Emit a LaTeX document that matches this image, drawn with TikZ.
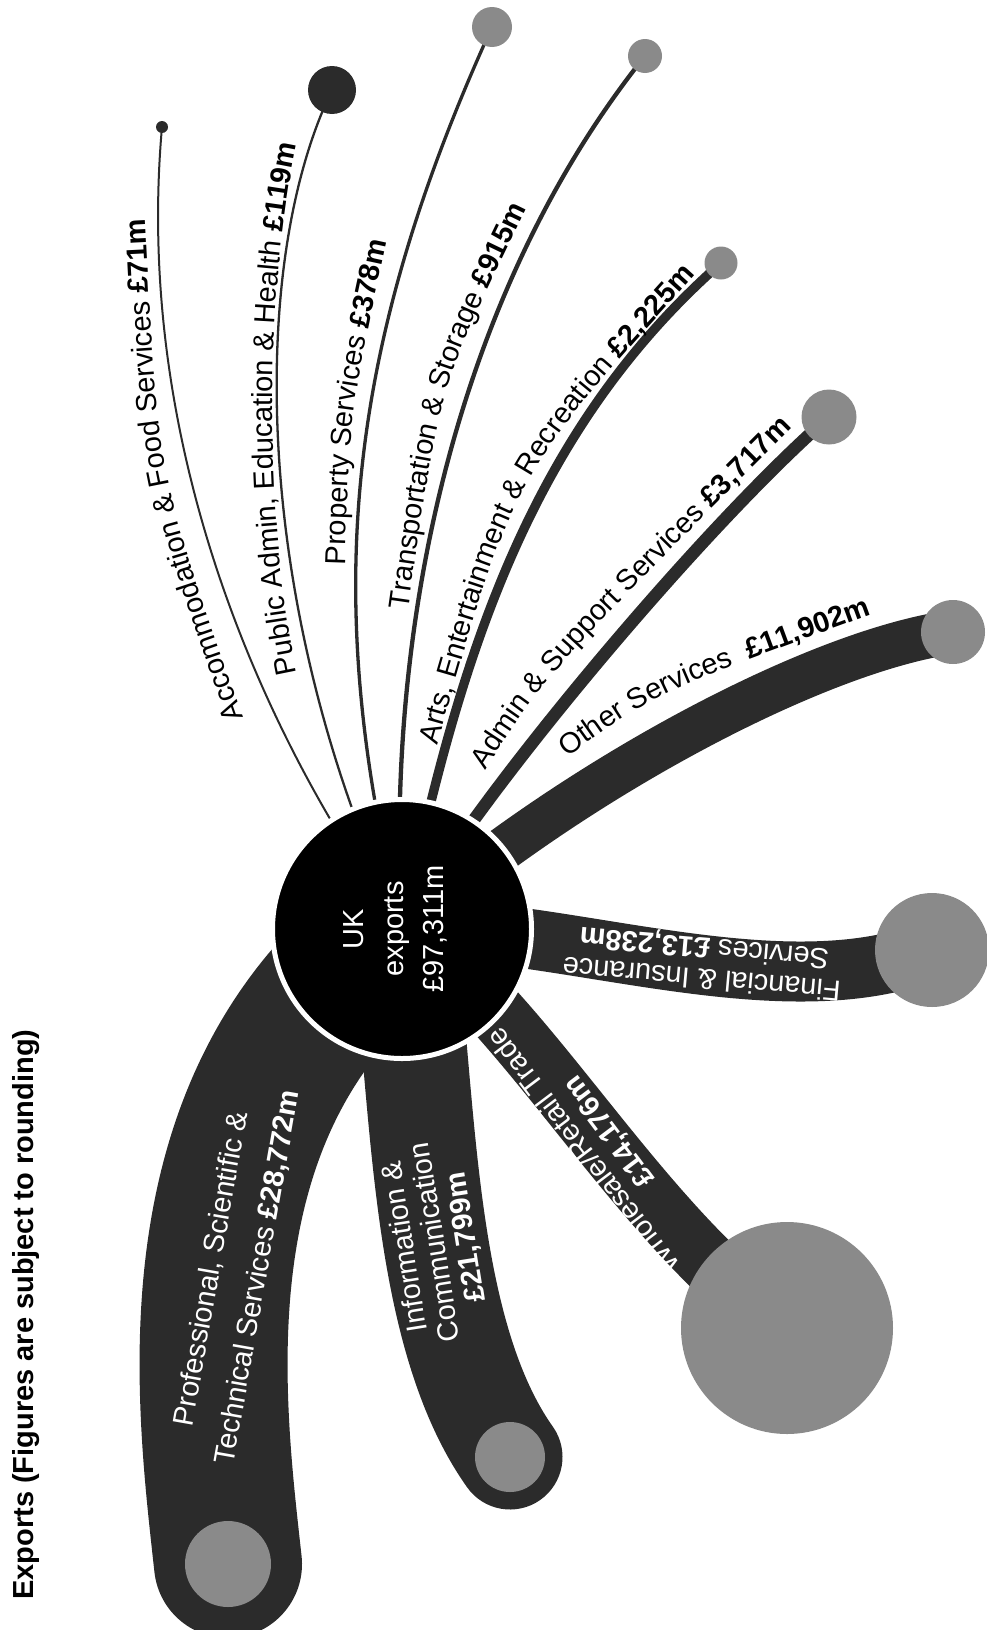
\documentclass[tikz,border=0pt]{standalone}
\usepackage{fontspec}
\setmainfont{Liberation Sans}
\usepackage{xcolor}
\usetikzlibrary{decorations.text}
\definecolor{bandgray}{HTML}{2B2B2B}
\definecolor{knobgray}{HTML}{8A8A8A}
\newcommand{\lbl}{\fontsize{29}{31}\selectfont}
\pgfdeclarelayer{bg}
\pgfsetlayers{bg,main}

\begin{document}
\begin{tikzpicture}[x=1pt,y=-1pt,
  knob/.style={circle,fill=knobgray,inner sep=0pt,minimum size=#1},
  darkknob/.style={circle,fill=bandgray,inner sep=0pt,minimum size=#1},
  stem/.style={draw=bandgray,line cap=round},
  inband/.style={text=white,align=center,inner sep=0pt},
  along/.style={decorate,decoration={text along path,text={#1}}}]
\useasboundingbox (0,0) rectangle (987,1630);
% hub
\node[circle,fill=black,draw=white,line width=5pt,minimum size=259pt,inner sep=0pt] (hub) at (402,929) {};
\node[rotate=90,text=white,align=center,inner sep=0pt,font=\fontsize{29}{40}\selectfont] (hubtxt) at (395,929) {UK\\exports\\£97,311m};
% end knobs
\node[darkknob=12pt] (eAcc) at (162,127) {};
\node[darkknob=48pt] (ePub) at (332,90) {};
\node[knob=40pt] (eProp) at (492,27) {};
\node[knob=34pt] (eTrans) at (645,56) {};
\node[knob=33pt] (eArts) at (721,263) {};
\node[knob=55pt] (eAdmin) at (829,417) {};
\node[knob=64pt] (eOther) at (953,632) {};
\node[knob=114pt] (eFin) at (932,950) {};
\node[knob=212pt] (eWhole) at (787,1328) {};
\node[knob=70pt] (eInfo) at (510,1457) {};
\node[knob=86pt] (eProf) at (228,1564) {};
% stems and bands
\begin{pgfonlayer}{bg}
\draw[stem,line width=2pt] (hub.center) .. controls (250,720) and (135,430) .. (eAcc.center);
\draw[stem,line width=2.3pt] (hub.center) .. controls (255,620) and (245,270) .. (ePub.center);
\draw[stem,line width=3.3pt] (hub.center) .. controls (320,600) and (345,350) .. (eProp.center);
\draw[stem,line width=4.3pt] (hub.center) .. controls (385,640) and (450,300) .. (eTrans.center);
\draw[stem,line width=9.3pt] (hub.center) .. controls (455,680) and (520,440) .. (eArts.center);
\draw[stem,line width=12.5pt] (hub.center) .. controls (480,790) and (710,520) .. (eAdmin.center);
\draw[stem,line width=44pt] (hub.center) .. controls (580,775) and (820,650) .. (eOther.center);
\draw[stem,line width=60pt] (hub.center) .. controls (560,925) and (780,1010) .. (eFin.center);
\draw[stem,line width=60pt] (hub.center) .. controls (520,1000) and (640,1230) .. (eWhole.center);
\draw[stem,line width=105pt] (hub.center) .. controls (425,1100) and (420,1330) .. (eInfo.center);
\draw[stem,line width=148pt] (hub.center) .. controls (170,1100) and (210,1400) .. (eProf.center);
\end{pgfonlayer}
% labels beside the thin stems
\path[along={|\lbl|Accommodation {\&} Food Services |\lbl\bfseries|£71m}]
  (243,717) .. controls (158,477) .. (145,217) -- (143,180);
\path[along={|\lbl|Public Admin, Education {\&} Health |\lbl\bfseries|£119m}]
  (297,673) .. controls (264,520) and (262,270) .. (306,105);
\path[along={|\lbl|Property Services |\lbl\bfseries|£378m}]
  (345,565) .. controls (350,412) .. (387,240) -- (394,205);
\path[along={|\lbl|Transportation {\&} Storage |\lbl\bfseries|£915m}]
  (408,610) .. controls (440,386) .. (522,217) -- (540,185);
\path[along={|\lbl|Arts, Entertainment {\&} Recreation |\lbl\bfseries|£2,225m}]
  (437,745) .. controls (514,475) .. (693,277) -- (720,250);
\path[along={|\lbl|Admin {\&} Support Services |\lbl\bfseries|£3,717m}]
  (485,770) .. controls (550,670) .. (788,432) -- (810,410);
\path[along={|\lbl|Other Services {~}|\lbl\bfseries|£11,902m}]
  (567,757) .. controls (654,694) .. (865,617) -- (895,607);
% labels inside the wide bands
\node[inband,rotate=175,font=\fontsize{29}{31}\selectfont] (tFin) at (703,962)
  {Financial \& Insurance\\Services \textbf{£13,238m}};
\node[inband,rotate=127,font=\fontsize{29}{32}\selectfont] (tWhole) at (597,1141)
  {Wholesale/Retail Trade\\\textbf{£14,176m}};
\node[inband,rotate=99,font=\fontsize{29}{31}\selectfont] (tInfo) at (436,1242)
  {Information \&\\Communication\\\textbf{£21,799m}};
\node[inband,rotate=80,font=\fontsize{29}{47}\selectfont] (tProf) at (235,1273)
  {Professional, Scientific \&\\Technical Services \textbf{£28,772m}};
% title
\node[rotate=90,anchor=base west,inner sep=0pt,font=\lbl\bfseries] (title) at (33,1600)
  {Exports (Figures are subject to rounding)};
\end{tikzpicture}
\end{document}
